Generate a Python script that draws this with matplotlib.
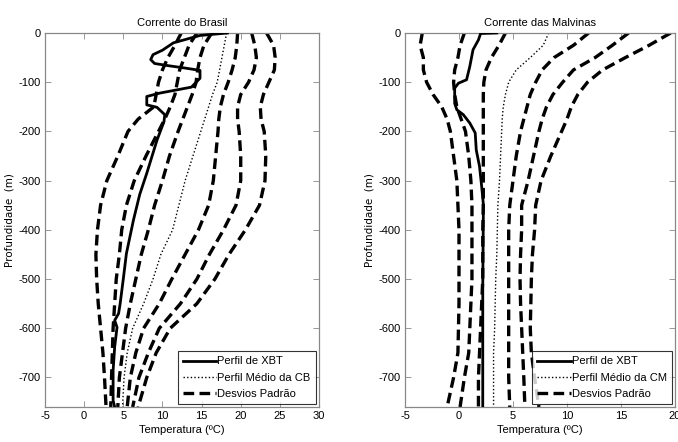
import numpy as np
import matplotlib.pyplot as plt

plt.rcParams['axes.unicode_minus'] = False
plt.rcParams['font.family'] = ['Liberation Sans', 'DejaVu Sans']

# ---------------- Corrente do Brasil ----------------
depth = [0, -25, -50, -75, -100, -125, -150, -175, -200, -250, -300, -350,
         -400, -450, -500, -550, -600, -650, -700, -760]

cb_mean = [18.2, 17.9, 17.6, 17.3, 17.0, 16.4, 15.9, 15.4, 14.9, 13.9, 12.9, 12.1,
           11.3, 9.8, 8.8, 7.6, 6.2, 5.5, 5.1, 4.9]
cb_p1 = [19.6, 19.5, 19.3, 18.9, 18.4, 17.8, 17.4, 17.2, 17.1, 16.8, 16.5, 15.9,
         14.6, 12.9, 11.2, 9.6, 7.6, 6.6, 5.9, 5.5]
cb_p2 = [21.4, 21.8, 22.0, 21.7, 21.0, 20.0, 19.6, 19.6, 19.8, 20.0, 20.0, 19.4,
         17.8, 16.0, 14.4, 12.3, 9.6, 8.2, 7.0, 6.2]
cb_p3 = [23.3, 24.2, 24.4, 24.3, 23.6, 22.9, 22.5, 22.6, 23.0, 23.2, 23.1, 22.4,
         20.6, 18.5, 16.7, 14.4, 11.0, 9.2, 8.0, 6.9]
cb_m1 = [16.3, 15.3, 14.8, 14.5, 14.3, 13.8, 13.2, 12.6, 12.0, 10.9, 10.0, 9.0,
         8.2, 7.3, 6.6, 5.9, 5.3, 4.9, 4.5, 4.3]
cb_m2 = [14.4, 13.4, 12.8, 12.2, 11.9, 11.6, 11.0, 10.3, 9.5, 7.9, 6.4, 5.4,
         4.8, 4.5, 4.1, 3.9, 3.7, 3.6, 3.5, 3.4]
cb_m3 = [12.4, 11.6, 10.7, 10.0, 9.5, 9.2, 8.9, 6.9, 5.6, 4.3, 2.9, 2.1,
         1.7, 1.5, 1.6, 1.8, 2.1, 2.4, 2.6, 2.8]

cb_xbt_z = [0, -5, -20, -35, -44, -54, -62, -67, -71, -76, -92, -110, -122, -129,
            -146, -151, -166, -180, -218, -285, -328, -380, -448, -500, -550,
            -570, -584, -598, -638, -686, -747, -760]
cb_xbt_t = [18.3, 14.8, 11.4, 10.0, 8.8, 8.5, 9.0, 11.0, 12.8, 14.8, 14.8, 13.7,
            9.7, 8.0, 8.0, 9.3, 10.3, 10.2, 9.3, 8.0, 7.1, 6.3, 5.4, 5.0, 4.6,
            4.4, 3.9, 4.2, 3.9, 3.7, 3.7, 3.9]

# ---------------- Corrente das Malvinas ----------------
cm_mean = [8.3, 7.8, 6.6, 5.3, 4.6, 4.3, 4.1, 4.0, 3.95, 3.85, 3.75, 3.6,
           3.55, 3.5, 3.4, 3.35, 3.3, 3.2, 3.2, 3.2]
cm_p1 = [12.0, 10.6, 8.8, 7.7, 7.1, 6.6, 6.3, 6.0, 5.7, 5.3, 5.0, 4.7,
         4.6, 4.6, 4.6, 4.6, 4.6, 4.6, 4.6, 4.7]
cm_p2 = [15.7, 14.2, 12.6, 10.6, 9.6, 8.7, 8.1, 7.7, 7.4, 6.9, 6.4, 5.8,
         5.8, 5.7, 5.65, 5.7, 5.8, 5.9, 6.0, 6.1]
cm_p3 = [19.6, 17.6, 15.4, 13.3, 11.9, 11.0, 10.4, 10.0, 9.5, 8.5, 7.6, 7.1,
         7.0, 6.8, 6.7, 6.65, 6.6, 6.7, 7.0, 7.4]
cm_m1 = [4.3, 3.7, 3.0, 2.5, 2.3, 2.25, 2.25, 2.25, 2.25, 2.25, 2.25, 2.25,
         2.2, 2.2, 2.2, 2.1, 2.0, 1.9, 1.8, 1.8]
cm_m2 = [0.5, 0.1, -0.1, -0.4, -0.5, -0.4, -0.2, 0.2, 0.6, 0.9, 1.1, 1.2,
         1.2, 1.2, 1.2, 1.1, 1.0, 0.9, 0.5, 0.1]
cm_m3 = [-3.4, -3.6, -3.3, -3.3, -3.0, -2.4, -1.6, -1.1, -0.8, -0.5, -0.2, -0.1,
         0.0, 0.0, 0.0, 0.0, -0.05, -0.1, -0.5, -1.1]

cm_xbt_z = [0, -1, -14, -34, -68, -95, -102, -112, -143, -156, -166, -183,
            -203, -238, -271, -312, -347, -380, -517, -652, -760]
cm_xbt_t = [3.5, 2.0, 1.8, 1.3, 1.0, 0.7, -0.05, -0.4, -0.4, -0.2, 0.4, 1.0,
            1.5, 1.6, 1.9, 2.1, 2.25, 2.25, 2.2, 2.2, 2.2]


def panel(ax, title, xbt_t, xbt_z, mean, devs, mean_label, xlim, xticks):
    dash = (0, (3.2, 1.6))
    ax.plot(xbt_t, xbt_z, color='black', lw=2.0, label='Perfil de XBT', zorder=4)
    ax.plot(mean, depth, color='black', lw=1.0, ls=(0, (1, 1.6)), label=mean_label)
    for i, d in enumerate(devs):
        ax.plot(d, depth, color='black', lw=2.4, ls=dash,
                label='Desvios Padrão' if i == 0 else '_nolegend_')
    ax.set_xlim(xlim)
    ax.set_ylim(-760, 0)
    ax.set_xticks(xticks)
    ax.set_yticks(range(-700, 1, 100))
    ax.tick_params(direction='in', top=True, right=True, labelsize=8, length=4,
                   width=0.6, colors='#888888', labelcolor='black', pad=3)
    for s in ax.spines.values():
        s.set_color('#888888')
        s.set_linewidth(0.9)
    ax.set_title(title, fontsize=8, pad=5)
    ax.set_xlabel('Temperatura (ºC)', fontsize=8, labelpad=3)
    ax.set_ylabel('Profundidade  (m)', fontsize=7.5, family='DejaVu Sans', labelpad=3)
    leg = ax.legend(loc='lower right', fontsize=8, frameon=True, fancybox=False,
                    edgecolor='black', handlelength=3.0, handletextpad=0.1,
                    borderpad=0.45, labelspacing=0.55, borderaxespad=0.3)
    leg.get_frame().set_linewidth(0.8)


fig = plt.figure(figsize=(6.78, 4.42), dpi=100)
ax1 = fig.add_axes([45 / 678, 35 / 442, 274 / 678, 374 / 442])
ax2 = fig.add_axes([405 / 678, 35 / 442, 270 / 678, 374 / 442])

panel(ax1, 'Corrente do Brasil', cb_xbt_t, cb_xbt_z, cb_mean,
      [cb_m3, cb_m2, cb_m1, cb_p1, cb_p2, cb_p3], 'Perfil Médio da CB',
      (-5, 30), range(-5, 31, 5))
panel(ax2, 'Corrente das Malvinas', cm_xbt_t, cm_xbt_z, cm_mean,
      [cm_m3, cm_m2, cm_m1, cm_p1, cm_p2, cm_p3], 'Perfil Médio da CM',
      (-5, 20), range(-5, 21, 5))

fig.savefig('out.png', dpi=100)
